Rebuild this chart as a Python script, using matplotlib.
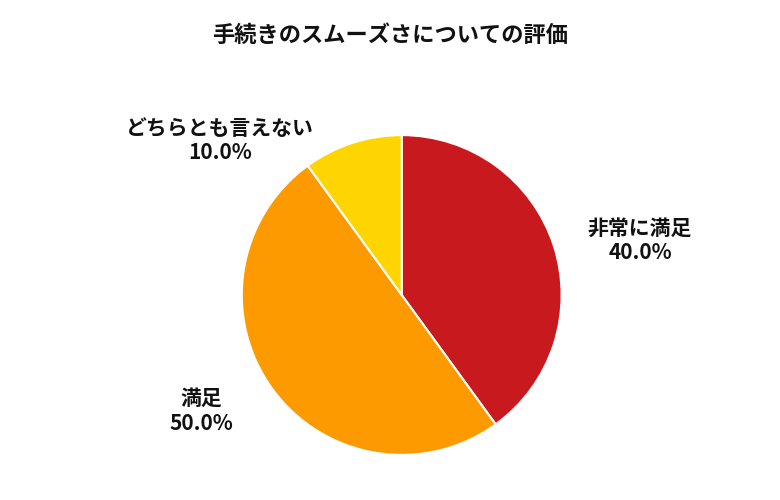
import matplotlib
matplotlib.use("Agg")
import matplotlib.pyplot as plt
import numpy as np

plt.rcParams['font.family'] = ['Noto Sans CJK JP', 'DejaVu Sans']

categories = ['非常に満足', '満足', 'どちらとも言えない']
values = [40.0, 50.0, 10.0]
colors = ['#c8191e', '#fd9a00', '#ffd500']
# label placement: (angle in degrees, radius as multiple of pie radius)
label_pos = [(13, 1.53), (-150, 1.45), (139.6, 1.49)]

fig = plt.figure(figsize=(7.8, 5), dpi=100)
ax = fig.add_axes([0.310, 0.09, 0.410, 0.64])
ax.pie(values, colors=colors, startangle=90, counterclock=False,
       wedgeprops=dict(edgecolor='white', linewidth=1.5))
ax.set_aspect('equal')
ax.set_xlim(-1, 1)
ax.set_ylim(-1, 1)

for name, val, (ang, r) in zip(categories, values, label_pos):
    a = np.deg2rad(ang)
    ax.text(r * np.cos(a), r * np.sin(a), f'{name}\n{val:.1f}%',
            ha='center', va='center', fontsize=15, fontweight='bold',
            color='#111111', linespacing=1.2, clip_on=False)

fig.text(0.5, 0.93, '手続きのスムーズさについての評価', ha='center', va='center',
         fontsize=16, fontweight='bold', color='#111111')

fig.savefig('out.png', dpi=100)
